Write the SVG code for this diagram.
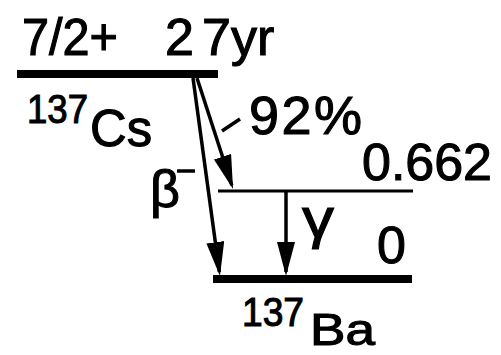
<svg xmlns="http://www.w3.org/2000/svg" width="501" height="355" viewBox="0 0 501 355">
<style>
text{font-family:"Liberation Sans","DejaVu Sans",Arial,sans-serif;fill:#000;stroke:#000;stroke-width:1.1}
.big{font-size:52px}
.sup{font-size:41px}
.lvl{stroke:#000;fill:none}
.arr{stroke:#000;stroke-width:3.5;fill:none;marker-end:url(#ah)}
</style>
<defs>
<marker id="ah" markerUnits="userSpaceOnUse" markerWidth="36" markerHeight="20" refX="30" refY="9" orient="auto" viewBox="0 0 36 20">
<path d="M0,0 L34,9 L0,18 z" fill="#000"/>
</marker>
</defs>
<rect width="501" height="355" fill="#fff"/>
<g id="cs137">
<line class="lvl" x1="17" y1="74" x2="218" y2="74" stroke-width="8"/>
<text class="big" x="22" y="55" textLength="96" lengthAdjust="spacingAndGlyphs">7/2+</text>
<text class="big" x="165" y="55">2<tspan x="202">7yr</tspan></text>
<text x="27" y="123" class="sup" textLength="61" lengthAdjust="spacingAndGlyphs">137</text>
<text x="90" y="146" class="big" textLength="62" lengthAdjust="spacingAndGlyphs">Cs</text>
</g>
<g id="ba137m">
<line class="lvl" x1="218" y1="191" x2="413" y2="191" stroke-width="3"/>
<text class="big" x="362" y="180" textLength="130" lengthAdjust="spacing">0.662</text>
</g>
<g id="ba137">
<line class="lvl" x1="213" y1="279" x2="412" y2="279" stroke-width="8"/>
<text class="big" x="377" y="263">0</text>
<text x="242" y="326" class="sup" textLength="62" lengthAdjust="spacingAndGlyphs">137</text>
<text x="310" y="345" style="font-size:45px" textLength="65" lengthAdjust="spacingAndGlyphs">Ba</text>
</g>
<g id="connectors">
<line class="arr" x1="193" y1="78" x2="219.4" y2="272"/>
<line class="arr" x1="197" y1="78" x2="231.8" y2="185.2"/>
<line class="arr" x1="286" y1="191" x2="286" y2="272"/>
<line x1="222" y1="131" x2="240" y2="119" stroke="#000" stroke-width="3.5"/>
<text style="font-size:54px" x="249" y="134" textLength="113" lengthAdjust="spacing">92%</text>
<text class="big" x="150" y="207">β</text>
<line x1="177" y1="171" x2="195" y2="171" stroke="#000" stroke-width="3.5"/>
<text style="font-size:56px" x="302" y="237" textLength="32" lengthAdjust="spacingAndGlyphs">γ</text>
</g>
</svg>
